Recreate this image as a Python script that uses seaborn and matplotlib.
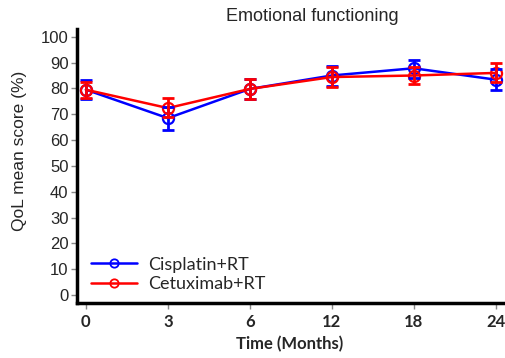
import numpy as np
import pandas as pd
import seaborn as sns
import matplotlib
matplotlib.use("Agg")
import matplotlib.pyplot as plt
from matplotlib.lines import Line2D

# Follow-up visits (months) and QoL emotional functioning scores
months = ["0", "3", "6", "12", "18", "24"]

cis_mean = [79.5, 68.5, 79.8, 85.0, 87.8, 83.4]
cis_lo = [76.0, 64.0, 75.8, 81.0, 84.2, 79.2]
cis_hi = [83.2, 72.8, 83.8, 88.6, 91.0, 87.5]

cet_mean = [79.5, 72.4, 79.8, 84.4, 85.0, 86.0]
cet_lo = [76.2, 68.8, 75.8, 80.6, 81.6, 82.4]
cet_hi = [82.5, 76.3, 83.8, 88.3, 88.3, 89.8]

groups = ["Cisplatin+RT", "Cetuximab+RT"]
colors = {"Cisplatin+RT": "#0000FF", "Cetuximab+RT": "#FF0000"}

pos = np.arange(len(months))
df = pd.DataFrame({
    "pos": np.concatenate([pos, pos]),
    "score": cis_mean + cet_mean,
    "lo": cis_lo + cet_lo,
    "hi": cis_hi + cet_hi,
    "group": [groups[0]] * len(months) + [groups[1]] * len(months),
})

sns.set_theme(style="white")
plt.rcParams["font.family"] = ["Liberation Sans", "DejaVu Sans"]

fig = plt.figure(figsize=(5.06, 3.58), dpi=100)
ax = fig.add_axes([0.152, 0.154, 0.842, 0.765])

sns.lineplot(data=df, x="pos", y="score", hue="group", hue_order=groups,
             palette=colors, marker="o", markersize=8, markerfacecolor="none",
             markeredgewidth=1.6, linewidth=1.8, ax=ax, legend=False)
for line in ax.get_lines():
    line.set_markeredgecolor(line.get_color())
    line.set_markerfacecolor("none")

# Error bars for each arm, drawn from the stored bounds
for i, g in enumerate(groups):
    sub = df[df["group"] == g]
    ax.errorbar(sub["pos"], sub["score"],
                yerr=[sub["score"] - sub["lo"], sub["hi"] - sub["score"]],
                fmt="none", ecolor=colors[g], elinewidth=2, capsize=4,
                capthick=2, zorder=2 + i)

ax.set_xlim(-0.11, 5.09)
ax.set_ylim(-3, 103)
ax.set_xticks(pos)
ax.set_xticklabels(months, fontfamily="Lato", fontweight="bold", fontsize=12)
ax.set_yticks(np.arange(0, 101, 10))
ax.tick_params(axis="y", labelsize=12, length=4, width=1, color="#888888",
               left=True, pad=2)
ax.tick_params(axis="x", length=4, width=1, color="#888888", bottom=True, pad=4)

for s in ["top", "right"]:
    ax.spines[s].set_visible(False)
for s in ["left", "bottom"]:
    ax.spines[s].set_color("black")
    ax.spines[s].set_linewidth(2.5)

ax.set_xlabel("Time (Months)", fontfamily="Lato", fontweight="bold",
              fontsize=12, labelpad=4)
ax.set_ylabel("QoL mean score (%)", fontsize=12.5)
ax.yaxis.set_label_coords(-0.117, 0.555)
ax.set_title("Emotional functioning", fontsize=13, pad=6, x=0.552)

handles = [Line2D([], [], color=colors[g], linewidth=1.8, marker="o",
                  markersize=6, markerfacecolor="none", markeredgewidth=1.3)
           for g in groups]
ax.legend(handles, groups, loc="lower left", frameon=False,
          prop={"family": "Lato", "size": 13}, handlelength=2.6,
          handletextpad=0.6, borderaxespad=0.0, labelspacing=0.2,
          bbox_to_anchor=(0.015, 0.012))

fig.savefig("out.png", dpi=100)
